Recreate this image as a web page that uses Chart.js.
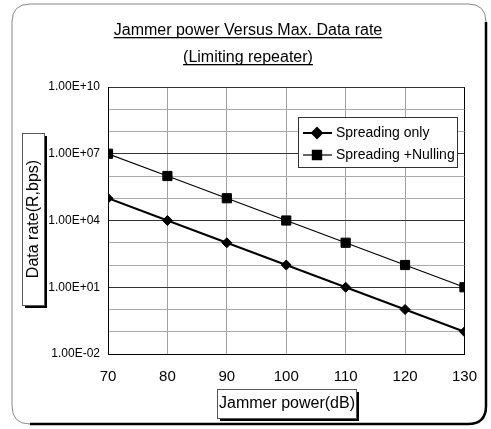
<!DOCTYPE html>
<html>
<head>
<meta charset="utf-8">
<script src="https://cdn.jsdelivr.net/npm/chart.js@4"></script>
<style>
html,body{margin:0;padding:0;background:#fff;}
canvas{display:block;}
</style>
</head>
<body>
<canvas id="c" width="491" height="429"></canvas>
<script>
const chartTitle = ['Jammer power Versus Max. Data rate', '(Limiting repeater)'];
const xTitle = 'Jammer power(dB)';
const yTitle = 'Data rate(R,bps)';
const xValues = [70, 80, 90, 100, 110, 120, 130];
const seriesNames = ['Spreading only', 'Spreading +Nulling'];
const spreadingOnly = [1e5, 1e4, 1e3, 1e2, 1e1, 1e0, 1e-1];
const spreadingNulling = [1e7, 1e6, 1e5, 1e4, 1e3, 1e2, 1e1];
const yTickValues = [1e10, 1e7, 1e4, 1e1, 1e-2];
const yTickLabels = ['1.00E+10', '1.00E+07', '1.00E+04', '1.00E+01', '1.00E-02'];
const yGridExponents = [-2, -1, 0, 1, 2, 3, 4, 5, 6, 7, 8, 9, 10];

const FONT = '"Liberation Sans", Arial, sans-serif';

function toPoints(vals) { return xValues.map((x, i) => ({ x: x, y: vals[i] })); }
function labelFor(v) {
  for (let i = 0; i < yTickValues.length; i++) {
    if (Math.abs(Math.log10(v) - Math.log10(yTickValues[i])) < 1e-6) return yTickLabels[i];
  }
  return '';
}

const decorPlugin = {
  id: 'decor',
  beforeDraw(chart) {
    const ctx = chart.ctx;
    ctx.save();
    ctx.fillStyle = '#fff';
    ctx.fillRect(0, 0, chart.width, chart.height);
    const x0 = 12, y0 = 4, x1 = 486, y1 = 424, r = 18;
    ctx.beginPath();
    ctx.moveTo(x0 + r, y0);
    ctx.lineTo(x1 - r, y0);
    ctx.quadraticCurveTo(x1, y0, x1, y0 + r);
    ctx.lineTo(x1, y1 - r);
    ctx.quadraticCurveTo(x1, y1, x1 - r, y1);
    ctx.lineTo(x0 + r, y1);
    ctx.quadraticCurveTo(x0, y1, x0, y1 - r);
    ctx.lineTo(x0, y0 + r);
    ctx.quadraticCurveTo(x0, y0, x0 + r, y0);
    ctx.strokeStyle = '#8a8a8a';
    ctx.lineWidth = 1;
    ctx.stroke();
    ctx.beginPath();
    ctx.moveTo(x0 + r, y1);
    ctx.lineTo(x1 - r, y1);
    ctx.quadraticCurveTo(x1, y1, x1, y1 - r);
    ctx.lineTo(x1, y0 + r);
    ctx.strokeStyle = '#000';
    ctx.lineWidth = 2.5;
    ctx.stroke();
    ctx.restore();
  },
  afterDraw(chart) {
    const ctx = chart.ctx;
    ctx.save();
    ctx.fillStyle = '#000';
    ctx.font = '16px ' + FONT;
    ctx.textAlign = 'center';
    ctx.textBaseline = 'alphabetic';
    const tys = [35, 62];
    chartTitle.forEach((t, i) => {
      const w = ctx.measureText(t).width;
      ctx.fillText(t, 248, tys[i]);
      ctx.fillRect(248 - w / 2, tys[i] + 2, w, 1.3);
    });
    function box(x, y, w, h) {
      ctx.fillStyle = '#000';
      ctx.fillRect(x + 3, y + 3, w, h);
      ctx.fillStyle = '#fff';
      ctx.fillRect(x, y, w, h);
      ctx.strokeStyle = '#555';
      ctx.lineWidth = 1;
      ctx.strokeRect(x + 0.5, y + 0.5, w, h);
    }
    box(22, 133, 22, 172);
    ctx.save();
    ctx.translate(34, 219);
    ctx.rotate(-Math.PI / 2);
    ctx.fillStyle = '#000';
    ctx.font = '16px ' + FONT;
    ctx.textAlign = 'center';
    ctx.textBaseline = 'middle';
    ctx.fillText(yTitle, 0, 0);
    ctx.restore();
    box(217, 389, 139, 29);
    ctx.fillStyle = '#000';
    ctx.font = '16px ' + FONT;
    ctx.textAlign = 'center';
    ctx.textBaseline = 'middle';
    ctx.fillText(xTitle, 287, 404);
    const lx = 298, ly = 117, lw = 159, lh = 50;
    ctx.fillStyle = '#fff';
    ctx.fillRect(lx, ly, lw, lh);
    ctx.strokeStyle = '#333';
    ctx.lineWidth = 1;
    ctx.strokeRect(lx + 0.5, ly + 0.5, lw, lh);
    const rows = [133, 155];
    chart.data.datasets.forEach((ds, i) => {
      const yy = rows[i];
      ctx.strokeStyle = '#000';
      ctx.lineWidth = ds.borderWidth;
      ctx.beginPath();
      ctx.moveTo(303, yy);
      ctx.lineTo(332, yy);
      ctx.stroke();
      Chart.helpers.drawPoint(ctx, {
        pointStyle: ds.pointStyle, radius: ds.pointRadius, borderWidth: 1, rotation: 0
      }, 317, yy);
      ctx.fillStyle = '#000';
      ctx.fill();
      ctx.fillStyle = '#000';
      ctx.font = '14px ' + FONT;
      ctx.textAlign = 'left';
      ctx.textBaseline = 'middle';
      ctx.fillText(ds.label, 336, yy);
    });
    ctx.restore();
  }
};

new Chart(document.getElementById('c'), {
  type: 'line',
  data: {
    datasets: [
      {
        label: seriesNames[0],
        data: toPoints(spreadingOnly),
        borderColor: '#000',
        backgroundColor: '#000',
        borderWidth: 2,
        pointStyle: 'rectRot',
        pointRadius: 5,
        pointBorderWidth: 1,
        fill: false,
        tension: 0
      },
      {
        label: seriesNames[1],
        data: toPoints(spreadingNulling),
        borderColor: '#000',
        backgroundColor: '#000',
        borderWidth: 1.2,
        pointStyle: 'rect',
        pointRadius: 6.5,
        pointBorderWidth: 1,
        fill: false,
        tension: 0
      }
    ]
  },
  options: {
    responsive: false,
    animation: false,
    devicePixelRatio: 1,
    layout: { padding: { left: 0, top: 87, right: 24, bottom: 0 } },
    plugins: {
      legend: { display: false },
      title: { display: false },
      tooltip: { enabled: false }
    },
    scales: {
      x: {
        type: 'linear',
        min: 70,
        max: 130,
        afterFit(s) { s.height = 75; },
        ticks: {
          stepSize: 10,
          padding: 14,
          color: '#000',
          font: { family: FONT, size: 15 }
        },
        grid: {
          drawTicks: false,
          color: (c) => (c.tick && (c.tick.value === 70 || c.tick.value === 130)) ? '#000' : '#a0a0a0',
          lineWidth: 1
        },
        border: { display: true, color: '#000', width: 1 }
      },
      y: {
        type: 'logarithmic',
        min: 1e-2,
        max: 1e10,
        afterFit(s) { s.width = 108; },
        afterBuildTicks(s) {
          s.ticks = yGridExponents.map(e => ({ value: Math.pow(10, e) }));
        },
        ticks: {
          padding: 8,
          color: '#000',
          autoSkip: false,
          font: { family: FONT, size: 12 },
          callback: (v) => labelFor(v)
        },
        grid: {
          drawTicks: false,
          color: (c) => labelFor(c.tick.value) ? '#333' : '#aaaaaa',
          lineWidth: 1
        },
        border: { display: true, color: '#000', width: 1 }
      }
    }
  },
  plugins: [decorPlugin]
});
</script>
</body>
</html>
